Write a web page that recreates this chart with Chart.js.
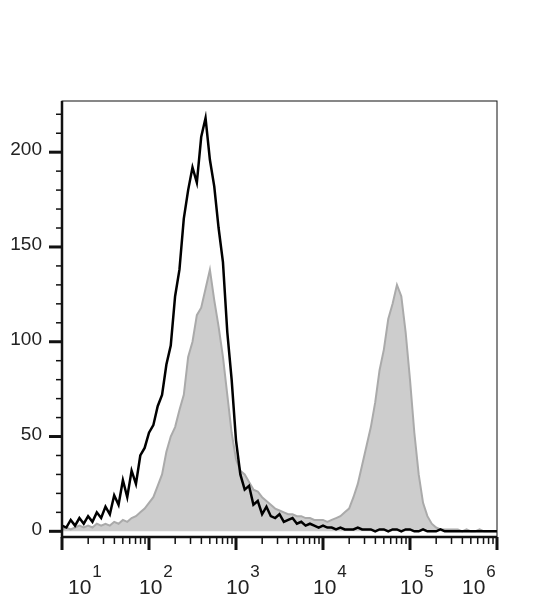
<!DOCTYPE html>
<html>
<head>
<script src="https://cdn.jsdelivr.net/npm/chart.js@4"></script>
<style>
  body { margin: 0; background: #fff; }
  #wrap { width: 537px; height: 600px; }
</style>
</head>
<body>
<div id="wrap"><canvas id="histo"></canvas></div>
<script>
// bins on log10 scale, from 10^1 to 10^6 in steps of 0.05
const binStart = 1, binStep = 0.05;
const blackCounts = [
  3,2,6,3,7,4,8,5,10,7,
  13,9,19,14,27,18,32,25,40,44,
  52,56,66,72,88,98,124,138,165,180,
  192,184,208,218,196,182,160,142,105,80,
  48,30,22,24,14,16,9,13,8,7,
  9,5,6,7,4,5,3,4,3,2,
  3,2,2,1,2,1,1,1,2,1,
  1,1,0,1,1,0,1,1,0,1,
  1,0,0,1,0,0,0,1,0,0,
  0,0,0,0,0,0,0,0,0,0,0
];
const grayCounts = [
  1,2,1,2,3,2,3,2,4,3,
  4,3,5,4,6,5,7,8,10,12,
  15,18,24,30,42,50,55,64,72,92,
  100,114,118,128,138,122,108,92,72,52,
  38,32,30,26,22,21,18,16,14,12,
  11,10,9,9,8,8,7,7,6,6,
  6,5,6,7,8,10,12,18,25,35,
  45,55,68,85,96,112,120,130,124,105,
  80,52,30,15,8,4,2,1,1,1,
  1,1,0,1,0,0,1,0,0,0,0
];
const yMajor = [0, 50, 100, 150, 200];
const xDecades = [1, 2, 3, 4, 5, 6];

function toPoints(arr) {
  return arr.map((v, i) => ({ x: binStart + i * binStep, y: v }));
}

const axesPlugin = {
  id: 'axesPlugin',
  afterDraw(chart) {
    const c = chart.ctx, a = chart.chartArea;
    const xs = chart.scales.x, ys = chart.scales.y;
    c.save();
    c.strokeStyle = '#111';
    c.lineWidth = 1;
    c.strokeRect(a.left, a.top, a.right - a.left, a.bottom - a.top);
    c.lineWidth = 2.5;
    c.beginPath();
    c.moveTo(a.left, a.top); c.lineTo(a.left, a.bottom); c.lineTo(a.right, a.bottom);
    c.stroke();
    // y ticks
    for (let v = 0; v <= 220; v += 10) {
      const y = ys.getPixelForValue(v);
      const major = yMajor.includes(v);
      c.lineWidth = major ? 3 : 1.5;
      c.beginPath();
      c.moveTo(a.left - (major ? 13 : 6), y); c.lineTo(a.left, y);
      c.stroke();
    }
    c.fillStyle = '#222';
    c.font = '19px "Liberation Sans", Arial, sans-serif';
    c.textAlign = 'right'; c.textBaseline = 'middle';
    yMajor.forEach(v => c.fillText(String(v), 42, ys.getPixelForValue(v) - 2));
    // x ticks
    xDecades.forEach(d => {
      const x = xs.getPixelForValue(d);
      c.lineWidth = 3;
      c.beginPath(); c.moveTo(x, a.bottom); c.lineTo(x, a.bottom + 13); c.stroke();
      if (d < 6) {
        for (let k = 2; k <= 9; k++) {
          const xm = xs.getPixelForValue(d + Math.log10(k));
          c.lineWidth = 1.5;
          c.beginPath(); c.moveTo(xm, a.bottom); c.lineTo(xm, a.bottom + 7); c.stroke();
        }
      }
    });
    c.textAlign = 'left'; c.textBaseline = 'alphabetic';
    xDecades.forEach((d, i) => {
      const x = xs.getPixelForValue(d);
      c.font = '21px "Liberation Sans", Arial, sans-serif';
      const w = c.measureText('10').width;
      let left = x - 10;
      if (i === 0) left = x + 6;
      if (i === xDecades.length - 1) left = x - 35;
      c.fillText('10', left, 594);
      c.font = '17px "Liberation Sans", Arial, sans-serif';
      c.fillText(String(d), left + w + 1, 577);
    });
    c.restore();
  }
};

new Chart(document.getElementById('histo'), {
  type: 'line',
  data: {
    datasets: [
      {
        data: toPoints(grayCounts),
        borderColor: '#aaaaaa',
        backgroundColor: '#cdcdcd',
        borderWidth: 2,
        fill: 'origin',
        pointRadius: 0,
        tension: 0,
        order: 2
      },
      {
        data: toPoints(blackCounts),
        borderColor: '#000',
        borderWidth: 2.5,
        fill: false,
        pointRadius: 0,
        tension: 0,
        order: 1
      }
    ]
  },
  options: {
    responsive: true,
    maintainAspectRatio: false,
    animation: false,
    layout: { padding: { left: 62, top: 101, right: 40, bottom: 63 } },
    plugins: { legend: { display: false }, tooltip: { enabled: false } },
    scales: {
      x: { type: 'linear', min: 1, max: 6, display: false },
      y: { min: -3, max: 227, display: false }
    }
  },
  plugins: [axesPlugin]
});
</script>
</body>
</html>
